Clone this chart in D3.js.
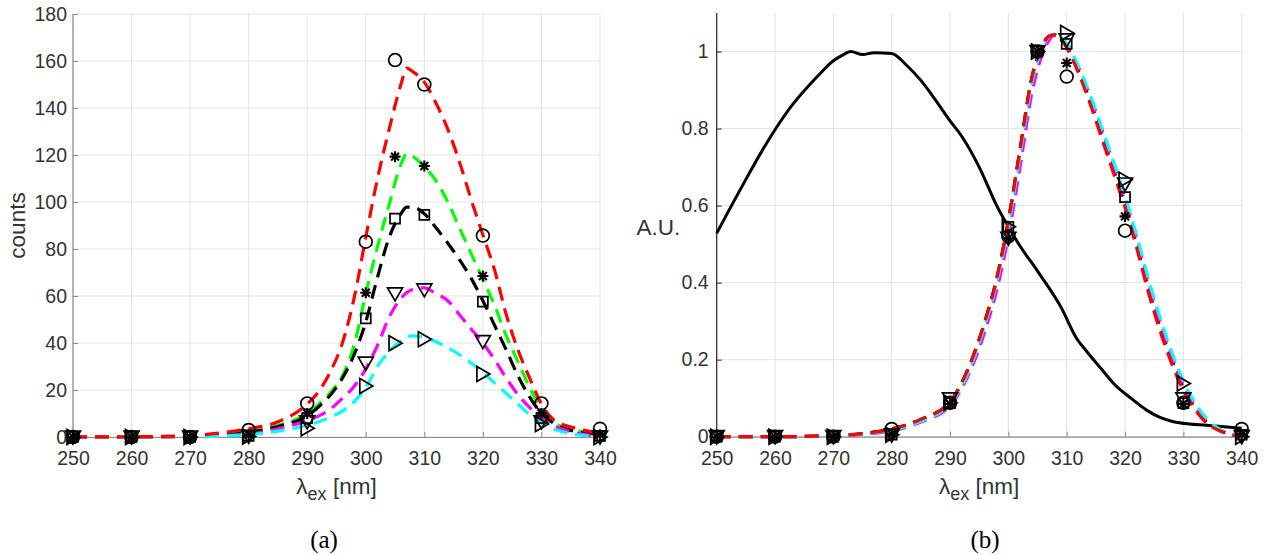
<!DOCTYPE html>
<html><head><meta charset="utf-8">
<script src="https://cdn.jsdelivr.net/npm/d3@7"></script>
<style>
body{margin:0;background:#fff;}
svg{display:block;font-family:"Liberation Sans",Arial,sans-serif;}
</style>
</head><body>
<svg id="c" width="1268" height="555"></svg>
<script>
// ---------- data ----------
const xTicks = [250,260,270,280,290,300,310,320,330,340];
const countTicks = [0,20,40,60,80,100,120,140,160,180];
const auTicks = [0,0.2,0.4,0.6,0.8,1];
const auTickLabels = ["0","0.2","0.4","0.6","0.8","1"];

// measured points (markers)
const markerX = [250,260,270,280,290,300,305,310,320,330,340];
const countsCircle = [0,0,0,3,14.3,83.1,160.4,150,85.7,14.3,3.5];
const countsStar   = [0,0,0,1,10,61.4,119.3,115.3,68.5,10,1];
const countsSquare = [0,0,0,0.5,8,50.5,92.9,94.5,57.6,8,0.5];
const countsDown   = [0,0,0,0.3,6.5,31.4,60.9,62.6,40.6,6.5,0];
const countsRight  = [0,0,0,0.2,3.7,21.7,39.9,41.6,26.8,5.5,0];

const normCircle = [0,0,0,0.02,0.088,0.52,1.0,0.935,0.535,0.088,0.02];
const normStar   = [0,0,0,0.006,0.085,0.515,1.0,0.97,0.572,0.085,0.006];
const normSquare = [0,0,0,0.005,0.087,0.545,1.0,1.02,0.622,0.087,0.005];
const normDown   = [0,0,0,0.004,0.098,0.515,1.0,1.03,0.656,0.098,0];
const normRight  = [0,0,0,0.005,0.088,0.545,1.0,1.048,0.667,0.138,0];

// fitted curves (dashed), left panel
const fitX = [250,260,270,275,280,285,290,292,294,296,298,300,302,304,306,307,308,310,312,314,316,318,320,322,324,326,328,330,332,334,336,338,340];
const fitRed     = [0,0.1,0.6,1.7,3.5,6.5,14,19.5,28,40,59,85,110,131,150,157,155.5,151,142,131,117,101,86,71,52,37,25,14,7.5,5,3.7,2.5,1.5];
const fitGreen   = [0,0,0.4,1,2.5,5,10,14,19,26,39,61,81,99,116,120.5,119.5,115,109,100,89,78,67,56,43,32,21,12,6.5,4,2.8,1.8,1];
const fitBlack   = [0,0,0.3,0.8,2,4.5,9,13,18,25,35,49,68,85,95,97.8,97.8,95,89,82.5,75.5,67.5,58,47.5,37,26,17,10,6,3.5,2.3,1.5,1];
const fitMagenta = [0,0,0.2,0.5,1.2,3.5,7,9,12,16.5,21.5,29,39,51,59,61.5,62.8,63.5,61,58,52,46,40,33,25,18,12.5,8,5,3,1.7,0.8,0.3];
const fitCyan    = [0,0,0.2,0.4,1,2.5,5,6.5,8.5,11,15,21,30,36.5,41,42.5,43,42.5,40.5,38,35,31.5,27.5,23,18.5,14,9.5,6,3.5,2,1,0.5,0.2];

// normalised fitted curves, right panel
const nfitRed     = [0,0,0.003,0.008,0.02,0.045,0.09,0.14,0.21,0.3,0.41,0.56,0.745,0.93,1.02,1.04,1.043,1.01,0.945,0.865,0.775,0.685,0.595,0.49,0.375,0.275,0.19,0.12,0.07,0.035,0.017,0.006,0];
const nfitGreen   = [0,0,0.003,0.008,0.02,0.045,0.09,0.14,0.21,0.3,0.41,0.56,0.745,0.93,1.02,1.04,1.043,1.012,0.95,0.87,0.78,0.69,0.6,0.495,0.38,0.28,0.195,0.125,0.073,0.037,0.017,0.006,0];
const nfitBlack   = [0,0,0.003,0.008,0.02,0.045,0.09,0.14,0.21,0.3,0.41,0.56,0.745,0.93,1.02,1.04,1.043,1.012,0.95,0.872,0.783,0.693,0.603,0.498,0.385,0.285,0.2,0.128,0.075,0.038,0.018,0.007,0];
const nfitMagenta = [0,0,0.002,0.006,0.015,0.038,0.08,0.125,0.19,0.275,0.38,0.52,0.7,0.89,1.0,1.03,1.043,1.02,0.96,0.885,0.8,0.71,0.62,0.515,0.4,0.3,0.21,0.135,0.08,0.04,0.018,0.006,0];
const nfitCyan    = [0,0,0.002,0.007,0.017,0.04,0.085,0.13,0.2,0.29,0.4,0.545,0.73,0.915,1.015,1.04,1.045,1.02,0.962,0.888,0.803,0.715,0.625,0.522,0.41,0.31,0.22,0.145,0.088,0.047,0.022,0.008,0];

// solid black reference curve, right panel
const refX = [250,252,255,258,260,263,266,268,270,271.5,273,275,277,280,282.5,285,287,290,292,295,298,300,302,305,309,311.7,313.4,316,318,321,323.7,326,328.3,331,334,337,340];
const refY = [0.528,0.585,0.668,0.748,0.797,0.862,0.915,0.947,0.976,0.99,1.0,0.992,0.997,0.995,0.965,0.925,0.885,0.82,0.78,0.7,0.6,0.545,0.495,0.43,0.337,0.255,0.222,0.175,0.139,0.1,0.069,0.05,0.039,0.033,0.03,0.026,0.022];

// ---------- drawing ----------
const svg = d3.select("#c");
const tickFont = "19.5px", labelFont = "22.5px";
const textCol = "#333";

const symPaths = {
  circle: d3.symbol(d3.symbolCircle, Math.PI*6.4*6.4)(),
  square: "M-5,-5H5V5H-5Z",
  down: "M-7.5,-6L7.5,-6L0,7Z",
  right: "M-6,-7.5L-6,7.5L7,0Z",
  star: (() => { const s = 5.5, a = s*0.72; return `M0,${-s}V${s}M${-s},0H${s}M${-a},${-a}L${a},${a}M${-a},${a}L${a},${-a}`; })()
};

function panel(cfg) {
  const x = d3.scaleLinear().domain([250,340]).range([cfg.x0, cfg.x1]);
  const y = d3.scaleLinear().domain(cfg.yDomain).range([cfg.y0, cfg.y1]);
  const g = svg.append("g");

  // grid
  g.append("g").selectAll("line").data(xTicks).join("line")
    .attr("x1", d => x(d)).attr("x2", d => x(d)).attr("y1", cfg.y0).attr("y2", cfg.y1)
    .attr("stroke", "#e3e3e3").attr("stroke-width", 1);
  g.append("g").selectAll("line").data(cfg.yTicks).join("line")
    .attr("x1", cfg.x0).attr("x2", cfg.x1).attr("y1", d => y(d)).attr("y2", d => y(d))
    .attr("stroke", "#e3e3e3").attr("stroke-width", 1);

  // axes
  const ax = g.append("g").attr("transform", `translate(0,${cfg.y0})`)
    .call(d3.axisBottom(x).tickValues(xTicks).tickSizeInner(-5).tickSizeOuter(0).tickPadding(14));
  ax.select(".domain").attr("stroke", "#8a8a8a").attr("stroke-width", 1.2);
  ax.selectAll(".tick line").attr("stroke", "#8a8a8a");
  ax.selectAll(".tick text").attr("font-size", tickFont).attr("fill", textCol)
    .attr("font-family", "Liberation Sans, Arial, sans-serif");

  const ay = g.append("g").attr("transform", `translate(${cfg.x0},0)`)
    .call(d3.axisLeft(y).tickValues(cfg.yTicks).tickFormat((d,i) => cfg.yLabels[i])
      .tickSizeInner(-5).tickSizeOuter(0).tickPadding(cfg.yPad));
  ay.select(".domain").attr("stroke", cfg.yAxisCol).attr("stroke-width", 1.2)
    .attr("d", `M0,${cfg.y0}V${cfg.y1}`);
  ay.selectAll(".tick line").attr("stroke", cfg.yAxisCol);
  ay.selectAll(".tick text").attr("font-size", tickFont).attr("fill", textCol)
    .attr("font-family", "Liberation Sans, Arial, sans-serif").attr("dy", "0.32em");

  // solid reference
  if (cfg.ref) {
    g.append("path")
      .attr("d", d3.line().x((d,i) => x(refX[i])).y(d => y(d)).curve(d3.curveMonotoneX)(refY))
      .attr("fill", "none").attr("stroke", "#000").attr("stroke-width", 3);
  }

  // dashed fits
  cfg.fits.forEach(f => {
    g.append("path")
      .attr("d", d3.line().x((d,i) => x(fitX[i])).y(d => y(d)).curve(d3.curveMonotoneX)(f.v))
      .attr("fill", "none").attr("stroke", f.c).attr("stroke-width", 3.2)
      .attr("stroke-dasharray", "14,8");
  });

  // markers
  cfg.markers.forEach(m => {
    g.append("g").selectAll("path").data(m.v).join("path")
      .attr("transform", (d,i) => `translate(${x(markerX[i])},${y(d)})`)
      .attr("d", symPaths[m.s])
      .attr("fill", "none").attr("stroke", "#000").attr("stroke-width", m.s === "star" ? 2.1 : 1.7);
  });

  // x label
  const xl = g.append("text").attr("x", (cfg.x0 + cfg.x1)/2).attr("y", 494)
    .attr("text-anchor", "middle").attr("font-size", labelFont).attr("fill", textCol);
  xl.append("tspan").text("λ");
  xl.append("tspan").attr("font-size", "18px").attr("dy", 6).text("ex");
  xl.append("tspan").attr("dy", -6).text(" [nm]");

  // panel caption
  g.append("text").attr("x", cfg.capX).attr("y", 548).attr("text-anchor", "middle")
    .attr("font-family", "Liberation Serif, Times New Roman, serif").attr("font-size", "25px")
    .attr("fill", "#000").text(cfg.cap);
  return g;
}

const left = panel({
  x0: 73, x1: 600, y0: 437, y1: 14, yDomain: [0,180],
  yTicks: countTicks, yLabels: countTicks.map(String), yPad: 6,
  yAxisCol: "#8a8a8a",
  fits: [
    {c: "#00ff00", v: fitGreen},
    {c: "#000000", v: fitBlack},
    {c: "#ff00ff", v: fitMagenta},
    {c: "#00ffff", v: fitCyan},
    {c: "#ff0000", v: fitRed}
  ],
  markers: [
    {s: "circle", v: countsCircle},
    {s: "star", v: countsStar},
    {s: "square", v: countsSquare},
    {s: "down", v: countsDown},
    {s: "right", v: countsRight}
  ],
  capX: 324, cap: "(a)"
});
left.append("text").attr("transform", "translate(25,225.5) rotate(-90)")
  .attr("text-anchor", "middle").attr("font-size", labelFont).attr("fill", textCol).text("counts");

const right = panel({
  x0: 716.7, x1: 1241.7, y0: 436.7, y1: 13, yDomain: [0,1.1],
  yTicks: auTicks, yLabels: auTickLabels, yPad: 8,
  yAxisCol: "#262626",
  ref: true,
  fits: [
    {c: "#00ff00", v: nfitGreen},
    {c: "#000000", v: nfitBlack},
    {c: "#ff00ff", v: nfitMagenta},
    {c: "#00ffff", v: nfitCyan},
    {c: "#ff0000", v: nfitRed}
  ],
  markers: [
    {s: "circle", v: normCircle},
    {s: "star", v: normStar},
    {s: "square", v: normSquare},
    {s: "down", v: normDown},
    {s: "right", v: normRight}
  ],
  capX: 985, cap: "(b)"
});
right.append("text").attr("x", 636.5).attr("y", 235)
  .attr("font-size", labelFont).attr("fill", textCol).text("A.U.");
</script>
</body></html>
